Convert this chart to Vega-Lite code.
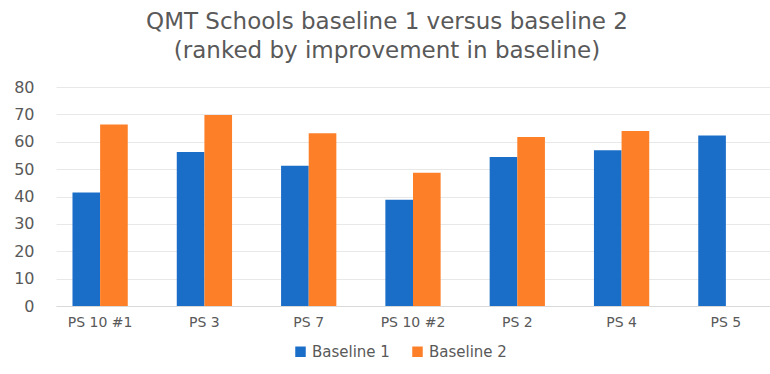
{
  "$schema": "https://vega.github.io/schema/vega-lite/v6.json",
  "width": 714,
  "height": 219,
  "autosize": {"type": "none"},
  "padding": {"left": 56, "top": 87, "right": 0, "bottom": 68},
  "background": "white",
  "title": {
    "text": ["QMT Schools baseline 1 versus baseline 2", "(ranked by improvement in baseline)"],
    "font": "DejaVu Sans",
    "fontSize": 23,
    "fontWeight": "normal",
    "color": "#595959",
    "anchor": "middle",
    "frame": "group",
    "dx": -26,
    "offset": 16,
    "lineHeight": 29
  },
  "data": {
    "values": [
      {"school": "PS 10 #1", "series": "Baseline 1", "value": 41.5},
      {"school": "PS 10 #1", "series": "Baseline 2", "value": 66.3},
      {"school": "PS 3", "series": "Baseline 1", "value": 56.3},
      {"school": "PS 3", "series": "Baseline 2", "value": 69.8},
      {"school": "PS 7", "series": "Baseline 1", "value": 51.2},
      {"school": "PS 7", "series": "Baseline 2", "value": 63.1},
      {"school": "PS 10 #2", "series": "Baseline 1", "value": 38.8},
      {"school": "PS 10 #2", "series": "Baseline 2", "value": 48.7},
      {"school": "PS 2", "series": "Baseline 1", "value": 54.4},
      {"school": "PS 2", "series": "Baseline 2", "value": 61.7},
      {"school": "PS 4", "series": "Baseline 1", "value": 56.9},
      {"school": "PS 4", "series": "Baseline 2", "value": 63.9},
      {"school": "PS 5", "series": "Baseline 1", "value": 62.3}
    ]
  },
  "mark": {"type": "bar"},
  "encoding": {
    "x": {
      "field": "school",
      "type": "nominal",
      "sort": null,
      "scale": {"paddingInner": 0.47, "paddingOuter": 0.158},
      "axis": {
        "title": null,
        "labelAngle": 0,
        "labelFont": "DejaVu Sans",
        "labelFontSize": 14,
        "labelColor": "#595959",
        "labelPadding": 9,
        "ticks": false,
        "domainColor": "#d9d9d9",
        "domainWidth": 1
      }
    },
    "xOffset": {"field": "series", "type": "nominal", "scale": {"domain": ["Baseline 1", "Baseline 2"]}},
    "y": {
      "field": "value",
      "type": "quantitative",
      "scale": {"domain": [0, 80]},
      "axis": {
        "title": null,
        "values": [0, 10, 20, 30, 40, 50, 60, 70, 80],
        "labelFont": "DejaVu Sans",
        "labelFontSize": 16,
        "labelColor": "#595959",
        "labelPadding": 22,
        "ticks": false,
        "domain": false,
        "gridColor": "#e8e8e8",
        "gridWidth": 1
      }
    },
    "color": {
      "field": "series",
      "type": "nominal",
      "scale": {"domain": ["Baseline 1", "Baseline 2"], "range": ["#1b6ec8", "#fd7f28"]},
      "legend": {
        "title": null,
        "orient": "none",
        "direction": "horizontal",
        "legendX": 237,
        "legendY": 257,
        "symbolType": "square",
        "symbolSize": 110,
        "symbolStrokeWidth": 0,
        "labelFont": "DejaVu Sans",
        "labelFontSize": 15,
        "labelColor": "#595959",
        "columnPadding": 20
      }
    }
  },
  "config": {"view": {"stroke": null}}
}
